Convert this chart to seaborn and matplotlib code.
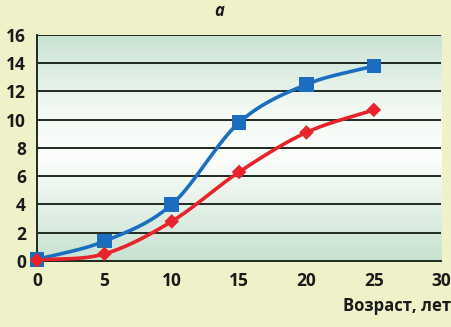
import numpy as np
import pandas as pd
import matplotlib.pyplot as plt
import seaborn as sns
from matplotlib.colors import LinearSegmentedColormap

# data
age = [0, 5, 10, 15, 20, 25]
blue_vals = [0.1, 1.4, 4.0, 9.8, 12.5, 13.8]
red_vals = [0.05, 0.5, 2.8, 6.3, 9.1, 10.7]
x_ticks = [0, 5, 10, 15, 20, 25, 30]
y_ticks = [0, 2, 4, 6, 8, 10, 12, 14, 16]

df = pd.DataFrame({'age': age, 'blue': blue_vals, 'red': red_vals})

sns.set_style('white')
plt.rcParams['font.family'] = ['Open Sans', 'DejaVu Sans']

fig = plt.figure(figsize=(4.52, 3.27), dpi=100, facecolor='#eff1c9')
ax = fig.add_axes([0.082, 0.202, 0.894, 0.691])

# gradient background inside the plot
cmap = LinearSegmentedColormap.from_list(
    'bg', [(0.0, '#c8e2d0'), (0.45, '#fbfdfb'), (0.65, '#f5faf5'), (1.0, '#c9e3d3')])
grad = np.linspace(1, 0, 256).reshape(-1, 1)
ax.imshow(grad, cmap=cmap, aspect='auto', extent=[0, 30, 0, 16], zorder=0)


def smooth(xs, ys, n=30):
    # Catmull-Rom style smoothing like spreadsheet "smoothed line"
    xs = np.asarray(xs, float)
    ys = np.asarray(ys, float)
    px = np.concatenate([[2 * xs[0] - xs[1]], xs, [2 * xs[-1] - xs[-2]]])
    py = np.concatenate([[2 * ys[0] - ys[1]], ys, [2 * ys[-1] - ys[-2]]])
    outx, outy = [], []
    for i in range(1, len(px) - 2):
        t = np.linspace(0, 1, n)
        c0x, c0y = px[i], py[i]
        c1x, c1y = px[i] + (px[i + 1] - px[i - 1]) / 6, py[i] + (py[i + 1] - py[i - 1]) / 6
        c2x, c2y = px[i + 1] - (px[i + 2] - px[i]) / 6, py[i + 1] - (py[i + 2] - py[i]) / 6
        c3x, c3y = px[i + 1], py[i + 1]
        bx = (1 - t) ** 3 * c0x + 3 * (1 - t) ** 2 * t * c1x + 3 * (1 - t) * t ** 2 * c2x + t ** 3 * c3x
        by = (1 - t) ** 3 * c0y + 3 * (1 - t) ** 2 * t * c1y + 3 * (1 - t) * t ** 2 * c2y + t ** 3 * c3y
        outx.extend(bx)
        outy.extend(by)
    return outx, outy


blue = '#1b6dbf'
red = '#e8232b'

for col, color, marker, size in [('blue', blue, 's', 110), ('red', red, 'D', 55)]:
    sx, sy = smooth(df['age'], df[col])
    ax.plot(sx, sy, color=color, lw=2.6, zorder=3, solid_capstyle='round')
    sns.scatterplot(data=df, x='age', y=col, marker=marker, s=size, color=color,
                    edgecolor='none', ax=ax, zorder=4, clip_on=False)

ax.set_xlim(0, 30)
ax.set_ylim(0, 16)
ax.set_xticks(x_ticks)
ax.set_yticks(y_ticks)
ax.grid(axis='y', color='#1e2a22', lw=1.4)
ax.set_axisbelow(False)
for s in ['top', 'right']:
    ax.spines[s].set_visible(False)
for s in ['left', 'bottom']:
    ax.spines[s].set_color('#1e2a22')
    ax.spines[s].set_linewidth(1.4)
ax.tick_params(axis='both', direction='out', length=5, width=1.2, color='#1e2a22',
               labelsize=12.5, pad=3)
for lbl in ax.get_xticklabels() + ax.get_yticklabels():
    lbl.set_fontweight('bold')
    lbl.set_color('#1a1a1a')
ax.set_xlabel('')
ax.set_ylabel('')

fig.text(0.998, 0.065, 'Возраст, лет', ha='right', va='center', fontsize=12,
         fontweight='bold', color='#1a1a1a')
fig.text(0.485, 0.995, 'a', ha='center', va='top', fontsize=12, style='italic',
         fontweight='bold', color='#1a1a1a')

fig.savefig('out.png', dpi=100, facecolor=fig.get_facecolor())
